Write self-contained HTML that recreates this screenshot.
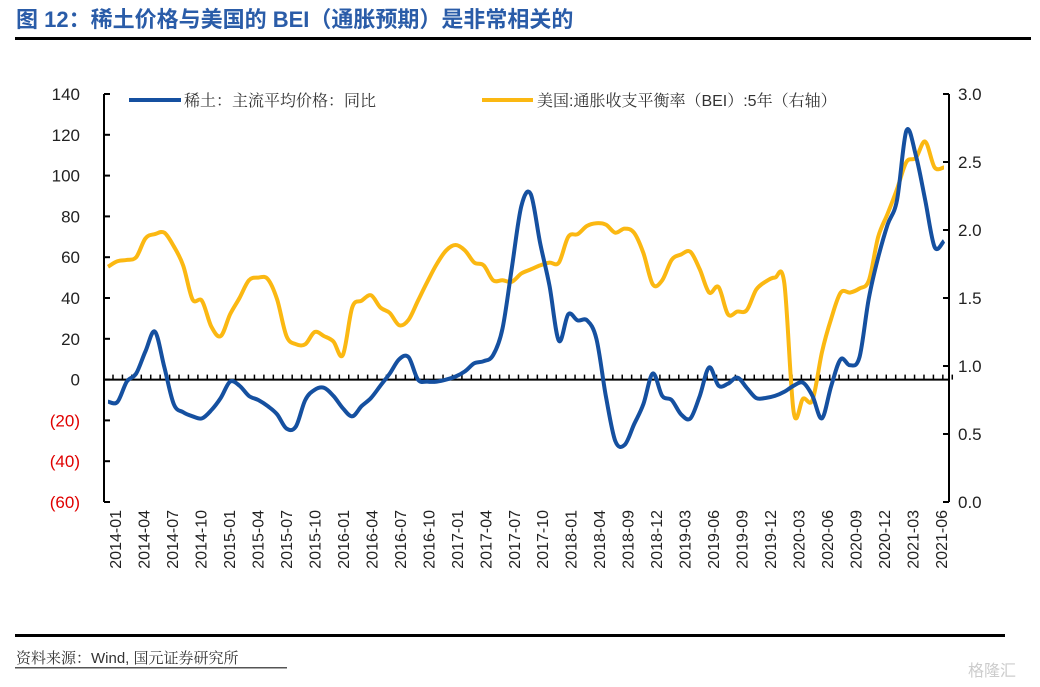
<!DOCTYPE html>
<html><head><meta charset="utf-8"><style>
body{margin:0;background:#fff;}
#wrap{position:relative;width:1040px;height:687px;overflow:hidden;font-family:"Liberation Sans","Noto Sans CJK SC",sans-serif;}
</style></head><body>
<div id="wrap">
<svg id="chart" width="1040" height="687">
<text x="16" y="27" font-size="22" font-weight="bold" fill="#2a5ca8" font-family="Liberation Sans,Noto Sans CJK SC,sans-serif">图 12：稀土价格与美国的 BEI（通胀预期）是非常相关的</text>
<rect x="15" y="37" width="1016" height="3" fill="#000"/>
<rect x="15" y="634" width="990" height="3" fill="#000"/>
<text x="16" y="663" font-size="15" fill="#333" font-family="Liberation Sans,Noto Serif CJK SC,serif">资料来源：Wind, 国元证券研究所</text>
<rect x="15" y="667" width="272" height="1.5" fill="#555"/>
<text x="968" y="676" font-size="16" fill="#ccc">格隆汇</text>
<g id="axes"></g>
<g id="series"></g>
<g>
<line x1="129" y1="100" x2="181" y2="100" stroke="#1550a0" stroke-width="4"/>
<text x="184" y="106" font-size="16" fill="#333" font-family="Liberation Sans,Noto Serif CJK SC,serif">稀土：主流平均价格：同比</text>
<line x1="482" y1="100" x2="533" y2="100" stroke="#fbb812" stroke-width="4"/>
<text x="537" y="106" font-size="16" fill="#333" font-family="Liberation Sans,Noto Serif CJK SC,serif">美国:通胀收支平衡率（BEI）:5年（右轴）</text>
</g>
</svg>
</div>
<script>
const xLabels=["2014-01","2014-04","2014-07","2014-10","2015-01","2015-04","2015-07","2015-10","2016-01","2016-04","2016-07","2016-10","2017-01","2017-04","2017-07","2017-10","2018-01","2018-04","2018-09","2018-12","2019-03","2019-06","2019-09","2019-12","2020-03","2020-06","2020-09","2020-12","2021-03","2021-06"];
const leftTicks=[140,120,100,80,60,40,20,0,-20,-40,-60];
const rightTicks=[3.0,2.5,2.0,1.5,1.0,0.5,0.0];
const rareEarth=[-10.8,-11,-1,3,14,23.5,6,-12,-16,-18,-19,-15,-9,-1,-3,-8,-10,-13,-17,-24,-23,-10,-5,-4,-8,-14,-18,-13,-9,-3,3,10,11,0,-1,-1,0,1.5,4,8,9,12,25,55,85,91,67,46,19,32,29,29,20,-8,-30,-32,-22,-12,3,-8,-10,-17,-19,-8,6,-3,-2,1,-4,-9,-9,-8,-6,-3,-1.5,-8,-19,-3,10,7,11,40,60,76,88,122,110,88,65,68];
const bei=[1.73,1.77,1.78,1.80,1.94,1.97,1.98,1.88,1.74,1.49,1.48,1.29,1.22,1.38,1.50,1.63,1.65,1.64,1.49,1.22,1.16,1.16,1.25,1.22,1.18,1.08,1.43,1.48,1.52,1.43,1.39,1.30,1.34,1.48,1.62,1.75,1.85,1.89,1.85,1.76,1.74,1.63,1.63,1.62,1.68,1.71,1.74,1.76,1.76,1.95,1.97,2.03,2.05,2.04,1.98,2.01,1.98,1.83,1.60,1.63,1.78,1.82,1.84,1.71,1.54,1.58,1.38,1.40,1.41,1.56,1.62,1.65,1.61,0.66,0.76,0.75,1.10,1.35,1.54,1.54,1.57,1.63,1.95,2.12,2.30,2.50,2.53,2.65,2.46,2.46];

const NS='http://www.w3.org/2000/svg';
const L=104,R=949,T=94,B=502;
const n=rareEarth.length;
const x=i=>108+i*(944-108)/(n-1);
const yL=v=>B-(v+60)*(B-T)/200;
const yR=v=>B-v*(B-T)/3;
const axes=document.getElementById('axes'),series=document.getElementById('series');
function mk(tag,attrs,parent){const e=document.createElementNS(NS,tag);for(const k in attrs)e.setAttribute(k,attrs[k]);parent.appendChild(e);return e;}

let e=mk('line',{x1:L,y1:T,x2:L,y2:B,stroke:'#000','stroke-width':2},axes);


e=mk('line',{x1:R,y1:T,x2:R,y2:B,stroke:'#000','stroke-width':2},axes);


e=mk('line',{x1:L,y1:yL(0),x2:R,y2:yL(0),stroke:'#000','stroke-width':2},axes);



leftTicks.forEach(v=>{
 const t=mk('line',{x1:L,y1:yL(v),x2:L+6,y2:yL(v),stroke:'#000','stroke-width':2},axes);
 
 
 const lb=mk('text',{x:80,y:yL(v)+6,'text-anchor':'end','font-size':17,fill:v<0?'#e00000':'#222'},axes);
 lb.textContent=v<0?'('+(-v)+')':String(v);
 
 
});
rightTicks.forEach(v=>{
 const t=mk('line',{x1:R-6,y1:yR(v),x2:R,y2:yR(v),stroke:'#000','stroke-width':2},axes);
 
 
 const lb=mk('text',{x:958,y:yR(v)+6,'font-size':17,fill:'#222'},axes);
 lb.textContent=v.toFixed(1);
 
 
});
for(let i=0;i<n;i++){
 const t=mk('line',{x1:113+i*9.43,y1:yL(0),x2:113+i*9.43,y2:yL(0)-5,stroke:'#000','stroke-width':1.5},axes);
 
 
}
xLabels.forEach((s,k)=>{
 const cx=115+k*(941-115)/(xLabels.length-1);
 const lb=mk('text',{x:0,y:0,'text-anchor':'end','font-size':16,fill:'#222',transform:`translate(${cx+6},510) rotate(-90)`},axes);
 lb.textContent=s;
 
 
});
function smooth(pts){
 let d='M'+pts[0][0]+','+pts[0][1];
 for(let i=0;i<pts.length-1;i++){
  const p0=pts[i-1]||pts[i],p1=pts[i],p2=pts[i+1],p3=pts[i+2]||p2;
  const c1=[p1[0]+(p2[0]-p0[0])/6,p1[1]+(p2[1]-p0[1])/6],c2=[p2[0]-(p3[0]-p1[0])/6,p2[1]-(p3[1]-p1[1])/6];
  d+=` C${c1[0].toFixed(1)},${c1[1].toFixed(1)} ${c2[0].toFixed(1)},${c2[1].toFixed(1)} ${p2[0].toFixed(1)},${p2[1].toFixed(1)}`;
 }
 return d;
}
let p=mk('path',{d:smooth(bei.map((v,i)=>[x(i),yR(v)])),fill:'none',stroke:'#fbb812','stroke-width':4,'stroke-linejoin':'round'},series);


p=mk('path',{d:smooth(rareEarth.map((v,i)=>[x(i),yL(v)])),fill:'none',stroke:'#1550a0','stroke-width':4,'stroke-linejoin':'round'},series);


</script>
</body></html>
